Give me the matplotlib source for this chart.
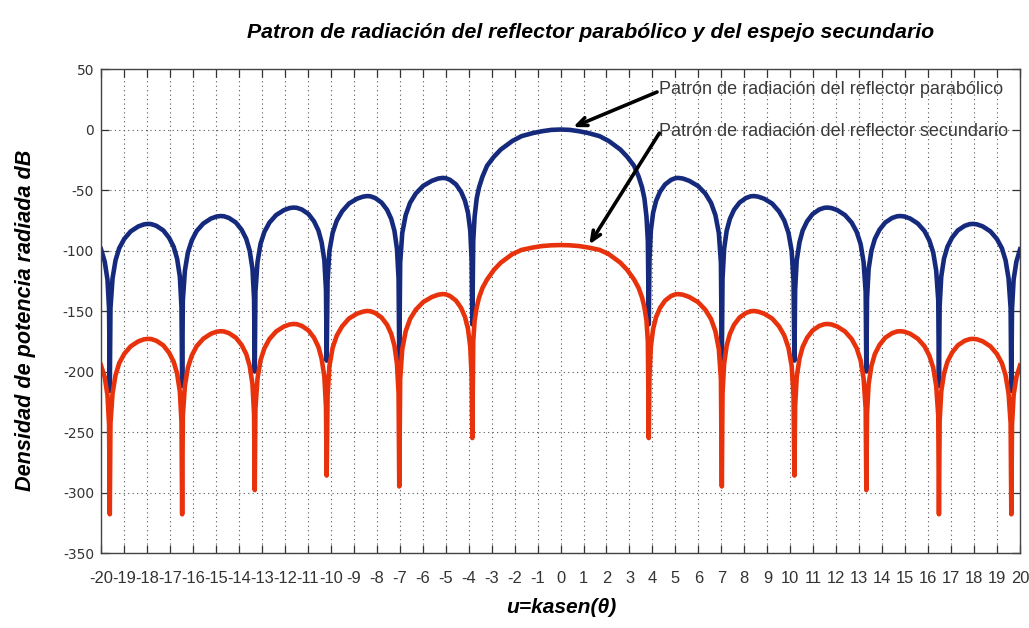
import numpy as np
import matplotlib
matplotlib.use("Agg")
import matplotlib.pyplot as plt
from matplotlib import font_manager as fm

# positive half of the pattern (u >= 0); the plot is symmetric
u_half = [0, 0.4, 0.8, 1.2, 1.7, 2.1, 2.6, 2.9, 3.2, 3.4, 3.55, 3.65, 3.74, 3.8, 3.84,
          3.87, 3.93, 4.03, 4.16, 4.33, 4.55, 4.81, 5.00, 5.13, 5.32, 5.60, 5.98, 6.30, 6.55, 6.74, 6.89, 6.98, 7.02,
          7.05, 7.12, 7.23, 7.37, 7.55, 7.79, 8.07, 8.28, 8.42, 8.60, 8.86, 9.21, 9.51, 9.74, 9.92, 10.06, 10.14, 10.18,
          10.21, 10.28, 10.40, 10.54, 10.73, 10.97, 11.26, 11.48, 11.62, 11.79, 12.04, 12.38, 12.67, 12.89, 13.06, 13.19, 13.28, 13.31,
          13.34, 13.41, 13.53, 13.68, 13.88, 14.13, 14.43, 14.65, 14.80, 14.97, 15.22, 15.55, 15.84, 16.05, 16.22, 16.35, 16.44, 16.47,
          16.50, 16.57, 16.69, 16.84, 17.04, 17.29, 17.59, 17.81, 17.96, 18.13, 18.38, 18.71, 18.99, 19.21, 19.37, 19.50, 19.59, 19.62,
          19.65, 19.72, 19.84, 20.0]

parabolico_half = [0, -0.3, -1.4, -2.9, -5.5, -9.5, -16.5, -22.5, -30, -39, -48, -57, -72, -92, -161,
                   -108.2, -83.6, -68.7, -58.9, -51.4, -45.4, -41.6, -40.2, -40, -40.5, -42.4, -46.6, -52.9, -60.6, -70.7, -85.6, -110.2, -190,
                   -123.2, -98.6, -83.7, -73.9, -66.4, -60.4, -56.6, -55.2, -55, -55.5, -57.2, -61.2, -67.7, -75.3, -85.4, -100.4, -125, -191,
                   -132.7, -108.1, -93.2, -83.4, -75.9, -69.9, -66.1, -64.7, -64.5, -64.9, -66.6, -70.7, -76.9, -84.6, -94.6, -109.6, -134.2, -200,
                   -139.7, -115.1, -100.2, -90.4, -82.9, -76.9, -73.1, -71.7, -71.5, -71.9, -73.6, -77.7, -83.9, -91.6, -101.6, -116.6, -141.2, -212,
                   -146.2, -121.6, -106.7, -96.9, -89.4, -83.4, -79.6, -78.2, -78, -78.4, -80.1, -84.2, -90.4, -98.1, -108.1, -123.1, -147.7, -216,
                   -148.7, -124.1, -109.2, -99]

secundario_half = [-95.5, -95.7, -96.3, -97.5, -99.5, -103, -110, -116, -124, -131, -139, -147, -158, -175, -255,
                   -204.2, -179.6, -164.7, -154.9, -147.4, -141.4, -137.6, -136.2, -136, -136.5, -138.4, -142.6, -148.9, -156.6, -166.7, -181.6, -206.2, -295,
                   -218.2, -193.6, -178.7, -168.9, -161.4, -155.4, -151.6, -150.2, -150, -150.5, -152.2, -156.2, -162.7, -170.3, -180.4, -195.4, -220, -286,
                   -228.9, -204.3, -189.4, -179.6, -172.1, -166.1, -162.3, -160.9, -160.7, -161.1, -162.8, -166.9, -173.1, -180.8, -190.8, -205.8, -230.4, -298,
                   -234.9, -210.3, -195.4, -185.6, -178.1, -172.1, -168.3, -166.9, -166.7, -167.1, -168.8, -172.9, -179.1, -186.8, -196.8, -211.8, -236.4, -318,
                   -241.2, -216.6, -201.7, -191.9, -184.4, -178.4, -174.6, -173.2, -173, -173.4, -175.1, -179.2, -185.4, -193.1, -203.1, -218.1, -242.7, -318,
                   -244.2, -219.6, -204.7, -195]

x_ticks = list(range(-20, 21))
y_ticks = list(range(-350, 51, 50))

titulo = "Patron de radiación del reflector parabólico y del espejo secundario"
etiqueta_1 = "Patrón de radiación del reflector parabólico"
etiqueta_2 = "Patrón de radiación del reflector secundario"

# mirror the half pattern
u = np.concatenate([-np.array(u_half[:0:-1]), u_half])
p_par = np.concatenate([parabolico_half[:0:-1], parabolico_half])
p_sec = np.concatenate([secundario_half[:0:-1], secundario_half])

names = {f.name for f in fm.fontManager.ttflist}
narrow = "Liberation Sans Narrow" if "Liberation Sans Narrow" in names else "Liberation Sans"
scale = 1.0 if narrow == "Liberation Sans Narrow" else 0.82

fig = plt.figure(figsize=(10.29, 6.28), dpi=100)
ax = fig.add_axes([0.0982, 0.1194, 0.8931, 0.7707])

ax.plot(u, p_par, color="#152a7c", lw=3.3, solid_joinstyle="round")
ax.plot(u, p_sec, color="#e8320c", lw=3.3, solid_joinstyle="round")

ax.set_xlim(-20, 20)
ax.set_ylim(-350, 50)
ax.set_xticks(x_ticks)
ax.set_yticks(y_ticks)
ax.set_xticklabels([str(t) for t in x_ticks], family=narrow, fontsize=14.5 * scale, color="#222222")
ax.set_yticklabels([str(t) for t in y_ticks], family="DejaVu Sans", fontsize=10, color="#333333")
ax.tick_params(direction="in", length=6, width=0.9, top=True, right=True, colors="#333333")
ax.tick_params(axis="x", pad=13)
ax.tick_params(axis="y", pad=5)
ax.grid(True, color="#555555", linestyle=(0, (1, 3)), linewidth=0.8)
for s in ax.spines.values():
    s.set_color("#444444")
    s.set_linewidth(1.0)

fig.text(0.574, 0.949, titulo, ha="center", va="center", family=narrow,
         fontsize=18.7 * scale, fontweight="bold", fontstyle="italic")
fig.text(0.025, 0.49, "Densidad de potencia radiada dB", rotation=90, ha="center", va="center",
         family=narrow, fontsize=19 * scale, fontweight="bold", fontstyle="italic")
fig.text(0.545, 0.033, "u=kasen(θ)", ha="center", va="center",
         family=[narrow, "DejaVu Sans"], fontsize=18.5 * scale, fontweight="bold", fontstyle="italic")

ax.text(4.3, 33, etiqueta_1, ha="left", va="center", family=narrow,
        fontsize=15.8 * scale, color="#3a3a3a")
ax.text(4.3, -1.5, etiqueta_2, ha="left", va="center", family=narrow,
        fontsize=15.8 * scale, color="#3a3a3a")
flecha = dict(arrowstyle="->,head_length=0.7,head_width=0.3", color="black", lw=2.6,
              shrinkA=0, shrinkB=0)
ax.annotate("", xy=(0.55, 2), xytext=(4.2, 31), arrowprops=flecha)
ax.annotate("", xy=(1.25, -95), xytext=(4.3, -3), arrowprops=flecha)

fig.savefig("out.png", dpi=100, facecolor="white")
